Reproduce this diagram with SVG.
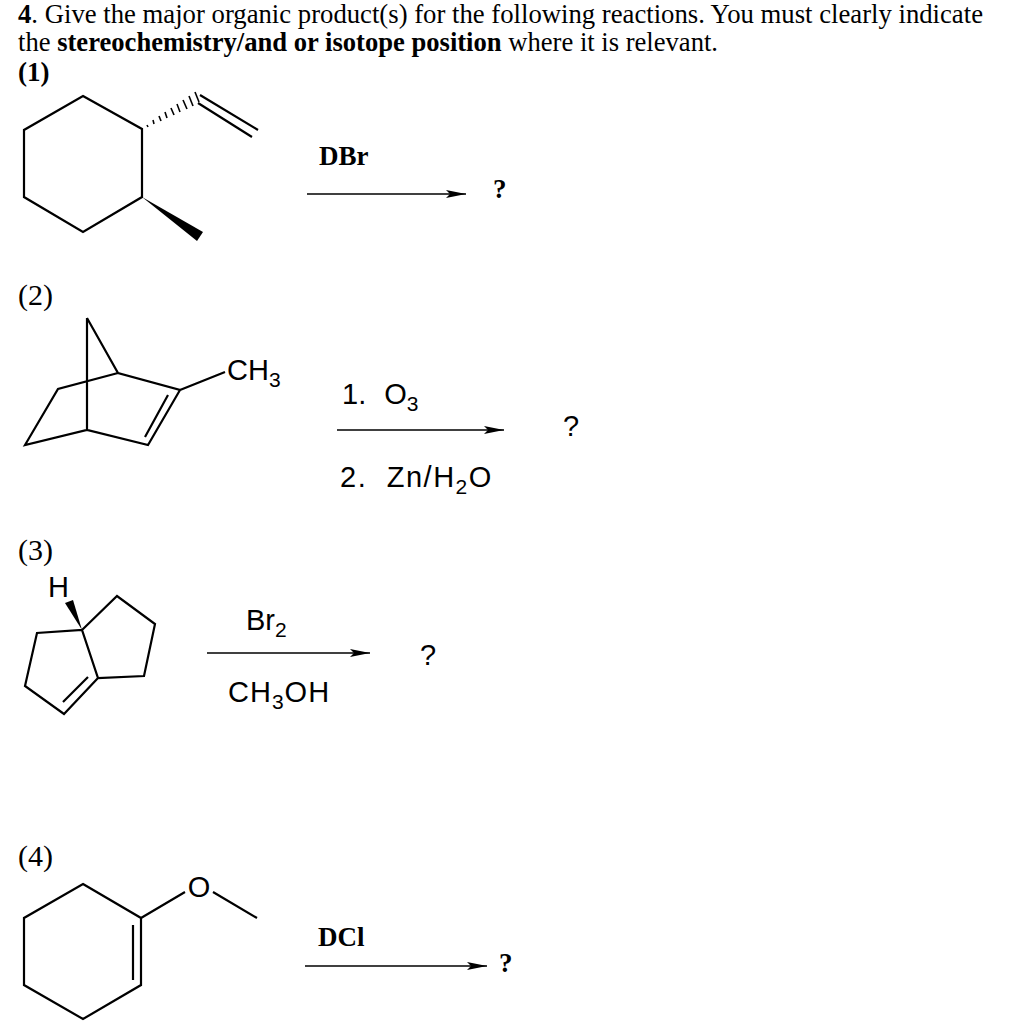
<svg xmlns="http://www.w3.org/2000/svg" width="1024" height="1021" viewBox="0 0 1024 1021">
<defs>
<style>
.s{font-family:"Liberation Serif",serif;font-size:27px;fill:#000}
.b{font-weight:bold}
.n{font-size:30px}
.a{font-family:"Liberation Sans",Arial,sans-serif;font-size:29px;fill:#000}
.l{stroke:#000;stroke-width:2.2;fill:none;stroke-linejoin:miter}
</style>
<marker id="ar" viewBox="0 0 20 8" refX="20" refY="4" markerWidth="20" markerHeight="8" markerUnits="userSpaceOnUse" orient="auto"><path d="M0,0L20,4L0,8L4,4Z" fill="#000"/></marker>
</defs>
<rect width="1024" height="1021" fill="#fff"/>
<text class="s" x="18" y="23" textLength="965" lengthAdjust="spacingAndGlyphs"><tspan class="b">4</tspan>. Give the major organic product(s) for the following reactions.  You must clearly indicate</text>
<text class="s" x="18" y="51" textLength="700" lengthAdjust="spacingAndGlyphs">the <tspan class="b">stereochemistry/and or isotope position</tspan> where it is relevant.</text>
<text class="s b" x="18" y="81" font-size="26">(1)</text>
<text class="s n" x="18" y="305">(2)</text>
<text class="s n" x="18" y="560">(3)</text>
<text class="s n" x="18" y="866">(4)</text>

<g id="m1">
<path class="l" d="M83,96L142,129L142,197L83,232L24,197L24,130Z"/>
<path class="l" d="M200,95L258,130M198,103L252,137"/>
<path d="M142,197L197,241L203,232Z" fill="#000"/>
<g stroke="#000" stroke-width="1.6">
<line x1="147" y1="125" x2="148" y2="127"/><line x1="153" y1="120" x2="154" y2="124"/><line x1="159" y1="116" x2="161" y2="121"/><line x1="165" y1="112" x2="167" y2="118"/><line x1="171" y1="108" x2="174" y2="115"/><line x1="177" y1="104" x2="180" y2="112"/><line x1="183" y1="100" x2="187" y2="109"/><line x1="189" y1="96" x2="193" y2="106"/><line x1="195" y1="92" x2="199" y2="102"/>
</g>
</g>
<g id="m2">
<path class="l" d="M87,318L87,430M87,318L118,373L180,390L148,445L87,430L25,445L58,389L118,373M180,390L225,372M168,395L145,437"/>
<text class="a" x="227" y="380">CH<tspan font-size="21" dy="7">3</tspan></text>
</g>
<g id="m3">
<text class="a" x="48" y="597">H</text>
<path d="M65,603L73,600L82,630Z" fill="#000"/>
<path class="l" d="M82,630L117,596L155,624L144,676L98,678L82,630L37,633L25,686L64,714L98,678M63,702L88,677"/>
</g>
<g id="m4">
<path class="l" d="M83,884L141,918L141,985L83,1019L24,985L24,918Z"/>
<path class="l" d="M133,925L133,980M141,918L185,892M213,892L257,918"/>
<text class="a" x="199" y="897" text-anchor="middle">O</text>
</g>

<g id="connectors">
<line x1="307" y1="194" x2="466" y2="194" stroke="#000" stroke-width="1.6" marker-end="url(#ar)"/>
<line x1="337" y1="430" x2="504" y2="430" stroke="#000" stroke-width="1.6" marker-end="url(#ar)"/>
<line x1="207" y1="653" x2="370" y2="653" stroke="#000" stroke-width="1.6" marker-end="url(#ar)"/>
<line x1="305" y1="966" x2="487" y2="966" stroke="#000" stroke-width="1.6" marker-end="url(#ar)"/>
</g>
<text class="s b" x="319" y="165">DBr</text>
<text class="s b" x="493" y="198">?</text>
<text class="a" x="342" y="404" word-spacing="10">1. O<tspan font-size="21" dy="7">3</tspan></text>
<text class="a" x="340" y="487" word-spacing="10" letter-spacing="1.5">2. Zn/H<tspan font-size="21" dy="7">2</tspan><tspan dy="-7">O</tspan></text>
<text class="a" x="563" y="436">?</text>
<text class="a" x="246" y="630">Br<tspan font-size="21" dy="7">2</tspan></text>
<text class="a" x="420" y="665">?</text>
<text class="a" x="228" y="702" letter-spacing="1">CH<tspan font-size="21" dy="7">3</tspan><tspan dy="-7">OH</tspan></text>
<text class="s b" x="318" y="946">DCl</text>
<text class="s b" x="499" y="972">?</text>
</svg>
